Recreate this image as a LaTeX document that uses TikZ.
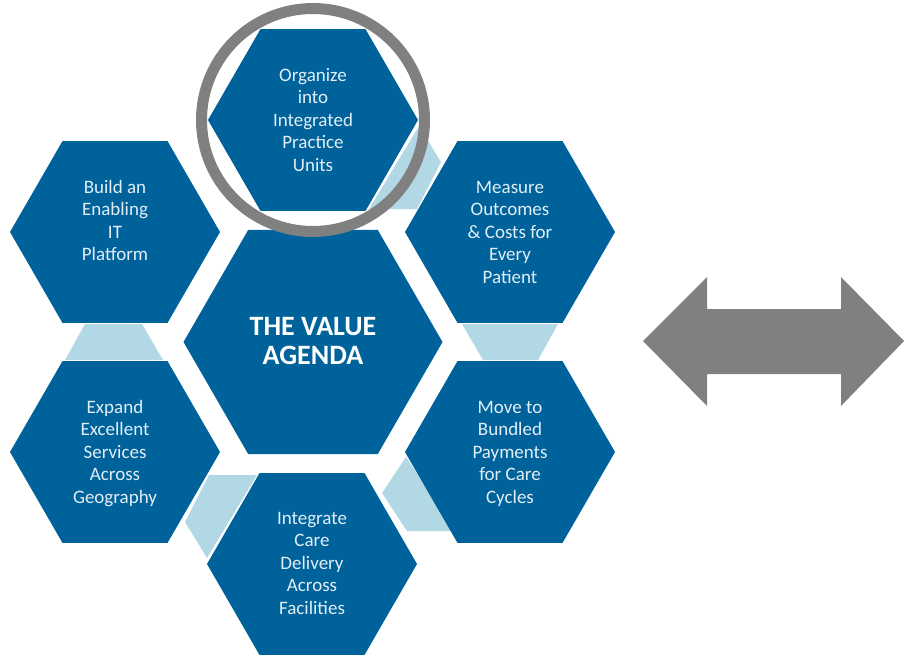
\documentclass[tikz,border=0pt]{standalone}
\usepackage{fontspec}
\setmainfont{Carlito}
\usetikzlibrary{shapes.geometric}
\definecolor{hexblue}{RGB}{0,98,155}
\definecolor{lightpiece}{RGB}{178,216,229}
\definecolor{hextext}{RGB}{226,238,246}
\definecolor{ringgray}{RGB}{128,128,128}
\begin{document}
\begin{tikzpicture}[x=1pt,y=-1pt,
  hexo/.style={regular polygon, regular polygon sides=6, minimum size=210pt, fill=hexblue, draw=none, inner sep=0pt, outer sep=0pt},
  hexc/.style={hexo, minimum size=259pt},
  txt/.style={anchor=north, inner sep=0pt, align=center, text=hextext, font=\fontsize{19}{22.5}\selectfont},
  ttl/.style={anchor=north, inner sep=0pt, align=center, text=white, font=\fontsize{28}{29}\selectfont\bfseries},
  piece/.style={fill=lightpiece, draw=none},
  ring/.style={draw=ringgray, line width=11pt},
  bigarrow/.style={fill=ringgray, draw=none}
]
\useasboundingbox (0,0) rectangle (904,654);

% light blue gap pieces
\fill[piece] (369,209) -- (419,126) -- (441,162) -- (417,209) -- cycle;
\fill[piece] (462,324) -- (558,324) -- (538,360) -- (483,360) -- cycle;
\fill[piece] (382,493) -- (406,457) -- (455,531) -- (407,531) -- cycle;
\fill[piece] (209,475) -- (257,475) -- (207,558) -- (185,522) -- cycle;
\fill[piece] (85,324) -- (142,324) -- (163,360) -- (65,360) -- cycle;

% hexagons
\node[hexc] (center) at (313,342) {};
\node[hexo] (org) at (313,120) {};
\node[hexo] (build) at (115,232) {};
\node[hexo] (meas) at (510,232) {};
\node[hexo] (move) at (510,452) {};
\node[hexo] (expd) at (115,452) {};
\node[hexo] (intg) at (312,564) {};

% texts
\node[ttl] (centert) at (313,314.7) {\strut THE VALUE\\AGENDA};
\node[txt] (orgt) at (313,65.5) {\strut Organize\\into\\Integrated\\Practice\\Units};
\node[txt] (buildt) at (115,177.5) {\strut Build an\\Enabling\\IT\\Platform};
\node[txt] (meast) at (510,177.5) {\strut Measure\\Outcomes\\\& Costs for\\Every\\Patient};
\node[txt] (movet) at (510,397.5) {\strut Move to\\Bundled\\Payments\\for Care\\Cycles};
\node[txt] (expdt) at (115,397.5) {\strut Expand\\Excellent\\Services\\Across\\Geography};
\node[txt] (intgt) at (312,508.5) {\strut Integrate\\Care\\Delivery\\Across\\Facilities};

% highlight ring
\draw[ring] (org.center) circle[radius=111.5];

% double arrow
\fill[bigarrow] (643,341) -- (707,277) -- (707,309) -- (841,309) -- (841,277)
  -- (904,341) -- (841,406) -- (841,374) -- (707,374) -- (707,406) -- cycle;
\end{tikzpicture}
\end{document}
